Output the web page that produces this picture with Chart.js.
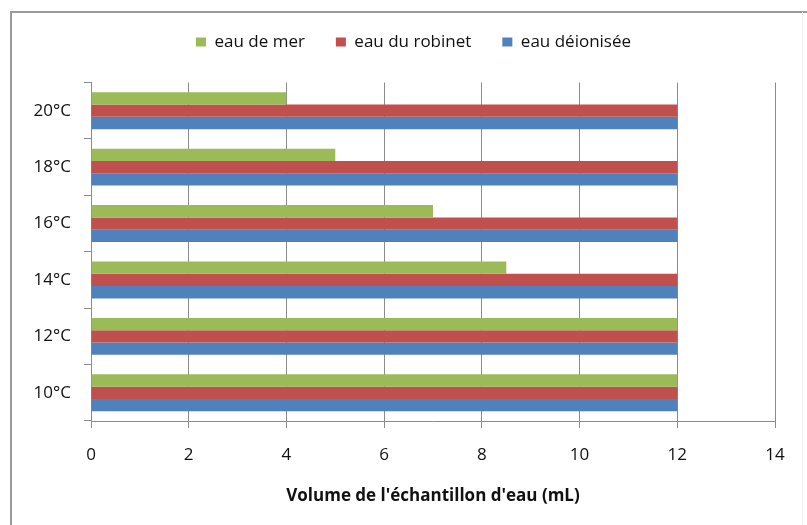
<!DOCTYPE html>
<html>
<head>
<meta charset="utf-8">
<script src="https://cdn.jsdelivr.net/npm/chart.js@4"></script>
<style>
  html, body { margin: 0; padding: 0; background: #ffffff; }
  #wrap { width: 807px; height: 525px; }
</style>
</head>
<body>
<div id="wrap"><canvas id="c" width="807" height="525"></canvas></div>
<script>
// Categories (top to bottom as drawn)
const categories = ['20°C', '18°C', '16°C', '14°C', '12°C', '10°C'];
// Series values (same order as categories)
const eauDeMer = [4, 5, 7, 8.5, 12, 12];
const eauDuRobinet = [12, 12, 12, 12, 12, 12];
const eauDeionisee = [12, 12, 12, 12, 12, 12];
// Series names
const seriesNames = ['eau de mer', 'eau du robinet', 'eau déionisée'];
// X tick values
const xMin = 0, xMax = 14, xStep = 2;
const xTitle = "Volume de l'échantillon d'eau (mL)";

const FONT = "'Open Sans', 'DejaVu Sans', sans-serif";
const gridColor = '#8c8c8c';
const textColor = '#111111';

const outerBorder = {
  id: 'outerBorder',
  beforeDraw(chart) {
    const ctx = chart.ctx;
    ctx.save();
    ctx.fillStyle = '#ffffff';
    ctx.fillRect(0, 0, chart.width, chart.height);
    ctx.strokeStyle = '#9a9a9a';
    ctx.lineWidth = 2;
    ctx.beginPath();
    ctx.moveTo(11, chart.height + 5);
    ctx.lineTo(11, 12);
    ctx.lineTo(chart.width + 5, 12);
    ctx.stroke();
    ctx.strokeStyle = '#f0f0f0';
    ctx.lineWidth = 1;
    ctx.beginPath();
    ctx.moveTo(802.5, 12);
    ctx.lineTo(802.5, chart.height);
    ctx.stroke();
    ctx.restore();
  }
};

const legendMargin = {
  id: 'legendMargin',
  beforeInit(chart) {
    const origFit = chart.legend.fit;
    chart.legend.fit = function () {
      origFit.bind(chart.legend)();
      this.height += 22;
    };
  },
  afterLayout(chart) {
    const lg = chart.legend;
    lg.left += 26;
    lg.right += 26;
  }
};

new Chart(document.getElementById('c'), {
  type: 'bar',
  data: {
    labels: categories,
    datasets: [
      { label: seriesNames[0], data: eauDeMer, backgroundColor: '#9BBB59' },
      { label: seriesNames[1], data: eauDuRobinet, backgroundColor: '#C0504D' },
      { label: seriesNames[2], data: eauDeionisee, backgroundColor: '#4F81BD' }
    ]
  },
  plugins: [outerBorder, legendMargin],
  options: {
    indexAxis: 'y',
    responsive: false,
    animation: false,
    devicePixelRatio: 1,
    layout: { padding: { left: 0, right: 32, top: 2.5, bottom: 0 } },
    datasets: {
      bar: { categoryPercentage: 0.655, barPercentage: 1.0, borderWidth: 0 }
    },
    plugins: {
      legend: {
        position: 'top',
        labels: {
          font: { family: FONT, size: 17 },
          color: textColor,
          boxWidth: 10,
          boxHeight: 9,
          padding: 31
        }
      },
      tooltip: { enabled: false }
    },
    scales: {
      x: {
        min: xMin,
        max: xMax,
        ticks: {
          stepSize: xStep,
          font: { family: FONT, size: 17 },
          color: textColor,
          padding: 17
        },
        grid: {
          color: gridColor,
          lineWidth: 1,
          tickLength: 7,
          drawTicks: true
        },
        border: { display: true, color: gridColor },
        title: {
          display: true,
          text: xTitle,
          font: { family: FONT, size: 17, weight: 'bold' },
          color: textColor,
          padding: { top: 0, bottom: 19 }
        },
        afterFit(scale) { scale.height = 104; }
      },
      y: {
        ticks: {
          font: { family: FONT, size: 17 },
          color: textColor,
          padding: 13
        },
        grid: {
          color: gridColor,
          drawOnChartArea: false,
          drawTicks: true,
          tickLength: 7,
          offset: true
        },
        border: { display: true, color: gridColor },
        afterFit(scale) { scale.width = 91; }
      }
    }
  }
});
</script>
</body>
</html>
